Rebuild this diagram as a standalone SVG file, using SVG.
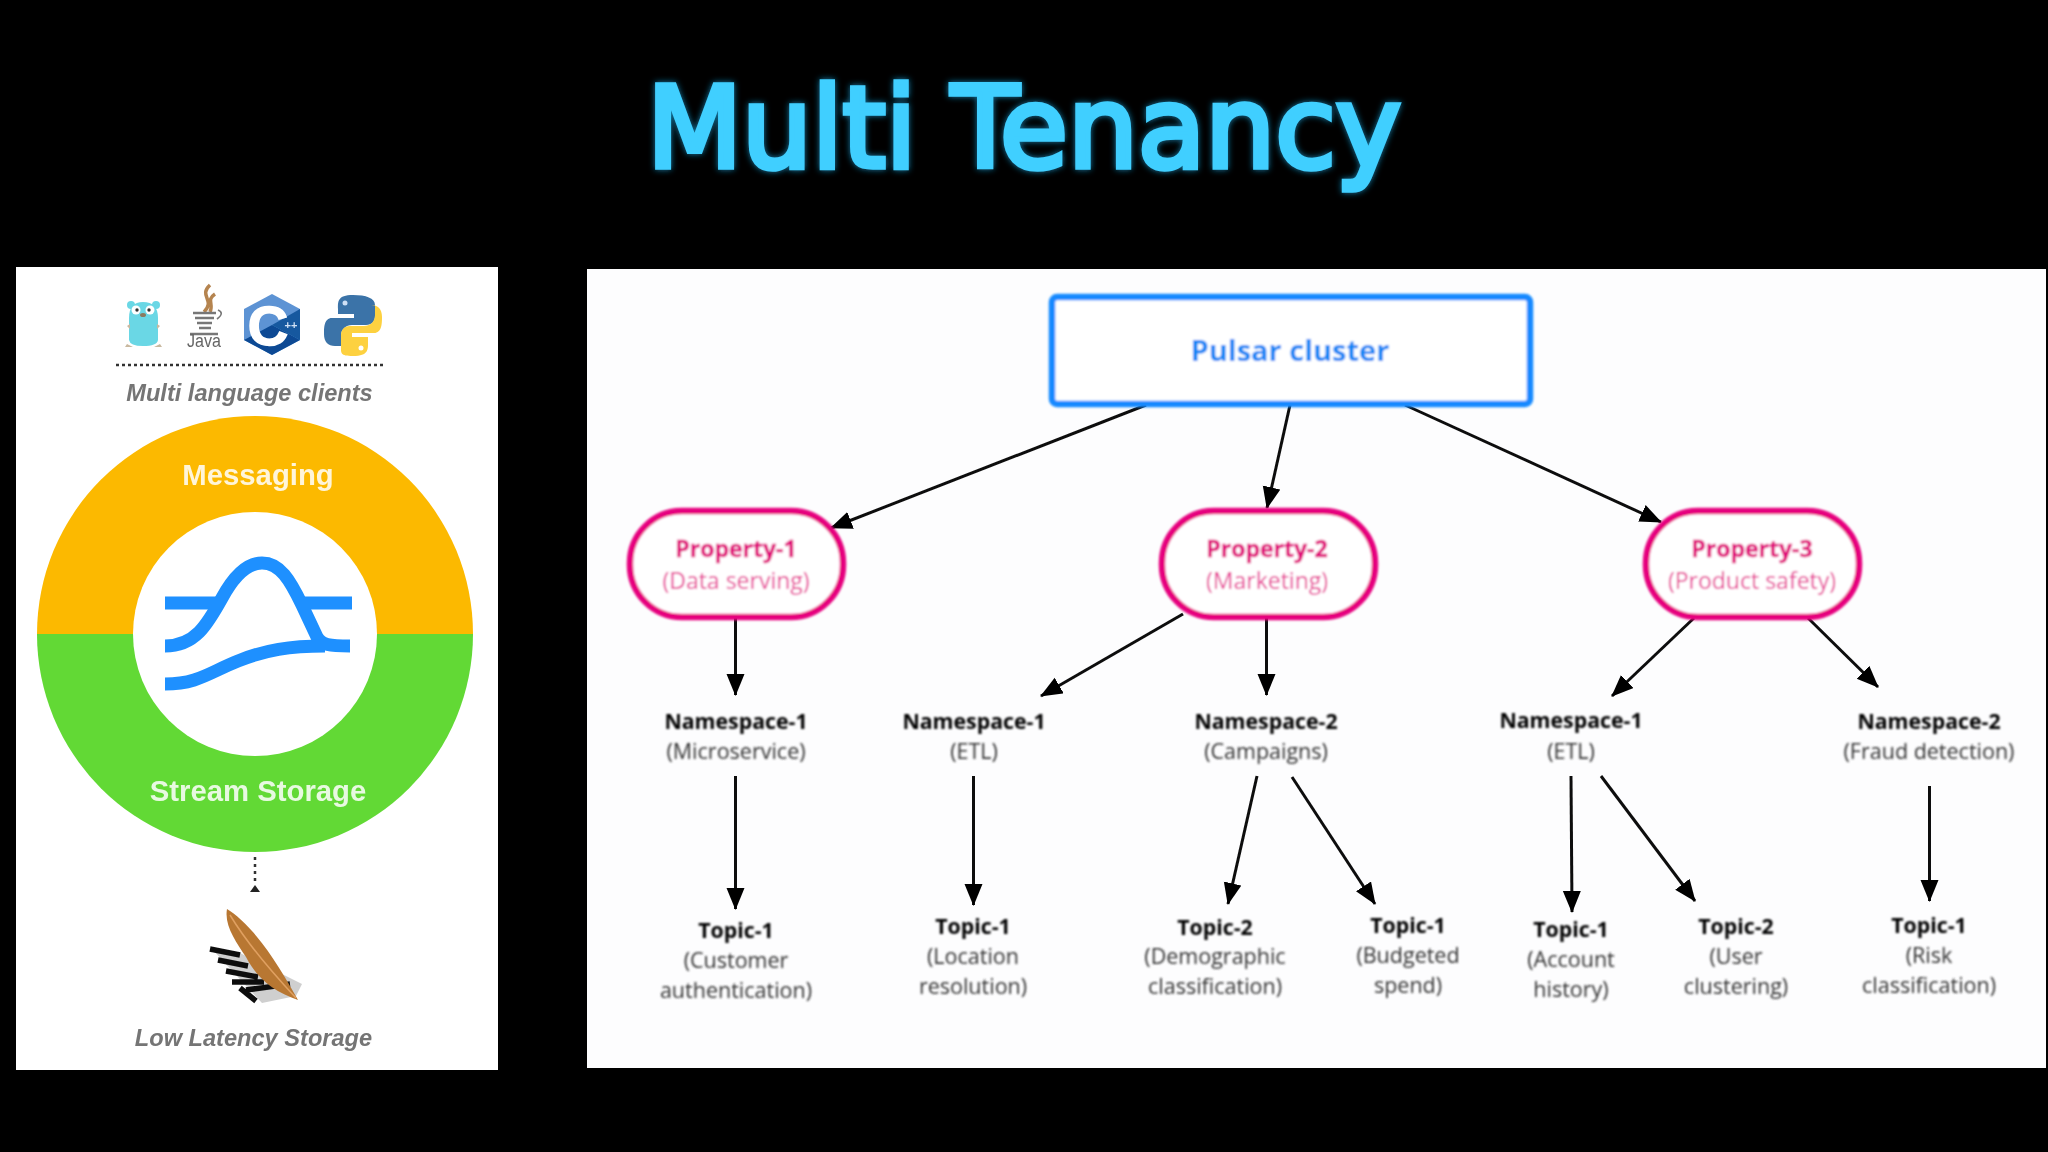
<svg xmlns="http://www.w3.org/2000/svg" width="2048" height="1152" viewBox="0 0 2048 1152">
<style>
.os{font-family:"Open Sans","Liberation Sans",sans-serif;text-anchor:middle}
.n{font-size:21.3px;font-weight:700;fill:#000}
.s{font-size:21.5px;fill:#333}
.pn{font-size:23px;font-weight:700;fill:#e0007a;stroke:#e0007a;stroke-width:.4}
.ps{font-size:23px;fill:#e62e90}
.prop{fill:#fff;stroke:#e6007e;stroke-width:6.5}
.ls{font-family:"Liberation Sans",Arial,sans-serif;text-anchor:middle}
.cap{font-size:23.6px;font-weight:700;font-style:italic;fill:#757575}
.ring{font-size:29.3px;font-weight:700;fill:#fff;fill-opacity:.85}
.c{stroke:#111;stroke-width:3;fill:none;marker-end:url(#arrow)}
.logo{fill:none;stroke:#1e90ff;stroke-width:13}
</style>
<defs>
<marker id="arrow" markerUnits="userSpaceOnUse" markerWidth="24" markerHeight="20" refX="21" refY="9" orient="auto">
<path d="M0,0 L22,9 L0,18 Z" fill="#000"/>
</marker>
<filter id="glow" x="-10%" y="-30%" width="120%" height="160%">
<feGaussianBlur in="SourceAlpha" stdDeviation="3" result="b"/>
<feFlood flood-color="#1aa5e0" flood-opacity=".75"/>
<feComposite in2="b" operator="in" result="g"/>
<feMerge><feMergeNode in="g"/><feMergeNode in="SourceGraphic"/></feMerge>
</filter>
<filter id="soft" x="-5%" y="-5%" width="110%" height="110%"><feGaussianBlur stdDeviation="0.9"/></filter>
<filter id="soft2" x="-5%" y="-5%" width="110%" height="110%"><feGaussianBlur stdDeviation="0.6"/></filter>
</defs>
<rect width="2048" height="1152" fill="#000"/>
<text id="title" x="1024" y="167" text-anchor="middle" font-family="'DejaVu Sans',sans-serif" font-size="112" textLength="754" lengthAdjust="spacingAndGlyphs" fill="#40cfff" stroke="#40cfff" stroke-width="5.5" filter="url(#glow)">Multi Tenancy</text>

<g id="left-panel">
<rect x="16" y="267" width="482" height="803" fill="#fff"/>
<g id="clients" filter="url(#soft2)">
<g id="go-icon">
<circle cx="131" cy="305" r="4" fill="#6ad7e5"/><circle cx="156" cy="305" r="4" fill="#6ad7e5"/>
<path d="M127,344 l-2,3 h8 z M160,344 l2,3 h-8 z" fill="#c9b9a0"/>
<path d="M129,318 Q129,302 143,302 Q158,302 158,318 L158,340 Q157,346 143,346 Q130,346 129,340 Z" fill="#6ad7e5"/>
<path d="M127,326 l3,-2 v5 z M160,326 l-3,-2 v5 z" fill="#c9b9a0"/>
<circle cx="136" cy="310" r="4.5" fill="#fff"/><circle cx="150" cy="310" r="4.5" fill="#fff"/>
<circle cx="137" cy="310" r="1.7" fill="#333"/><circle cx="149" cy="310" r="1.7" fill="#333"/>
<ellipse cx="143" cy="315" rx="3" ry="2" fill="#8a7a60"/>
</g>
<g id="java-icon">
<path d="M210,285 C198,296 216,300 204,312 M215,294 C206,300 214,304 210,312" fill="none" stroke="#b58450" stroke-width="3.5"/>
<path d="M193,313 H216 M195,318 H214 M197,323 H212 M199,328 H211 M190,334 H218" stroke="#777" stroke-width="2.4" fill="none"/>
<path d="M218,310 q7,3 -1,9" stroke="#777" stroke-width="1.6" fill="none"/>
<text x="204" y="347" class="ls" font-size="18" fill="#666" textLength="34" lengthAdjust="spacingAndGlyphs">Java</text>
</g>
<g id="cpp-icon">
<path d="M272,294 L300,309 V340 L272,355 L244,340 V309 Z" fill="#5d93d4"/>
<path d="M272,325 L300,340 L272,355 L244,340 Z" fill="#0a4a94"/>
<path d="M272,325 L300,309 V340 Z" fill="#17589f"/>
<text x="268" y="345" class="ls" font-size="56" font-weight="700" fill="#fff" stroke="#fff" stroke-width="1.5">C</text>
<text x="291" y="329" class="ls" font-size="11" font-weight="700" fill="#cfe0f5">++</text>
</g>
<g id="python-icon">
<path d="M353,295 C337,295 338,302 338,309 V314 H354 V318 H332 C324,318 324,328 324,334 C324,342 328,346 335,346 H341 V336 C341,329 346,325 352,325 H366 C372,325 375,321 375,316 V305 C375,298 366,295 353,295 Z" fill="#3a73a8"/>
<path d="M353,356 C369,356 368,349 368,342 V337 H352 V333 H374 C382,333 382,323 382,317 C382,309 378,305 371,305 H375 V315 C375,322 370,326 364,326 H350 C344,326 341,330 341,335 V346 C341,353 340,356 353,356 Z" fill="#fdd13f"/>
<circle cx="345" cy="303" r="2.5" fill="#cfe0f5"/><circle cx="361" cy="348" r="2.5" fill="#fff"/>
</g>
<line x1="116" y1="365" x2="385" y2="365" stroke="#333" stroke-width="2.5" stroke-dasharray="3 3"/>
<text x="249.5" y="401" class="ls cap">Multi language clients</text>
</g>
<g id="ring">
<path d="M37,634 A218,218 0 0 1 473,634 Z" fill="#fcb900"/>
<path d="M37,634 A218,218 0 0 0 473,634 Z" fill="#62d935"/>
<circle cx="255" cy="634" r="122" fill="#fff"/>
<g filter="url(#soft2)">
<text x="258" y="485" class="ls ring">Messaging</text>
<text x="258" y="801" class="ls ring">Stream Storage</text>
</g>
<g id="pulsar-logo">
<path class="logo" d="M165,646 C195,646 207,625 222,598 C235,574 248,563 262,563 C280,563 290,580 302,605 L317,637 C321,645 330,646 350,646"/>
<path class="logo" d="M165,603 H222"/>
<path class="logo" d="M165,684 C198,684 210,672 238,661 C265,650 290,646 325,646"/>
<path class="logo" d="M300,603 H352"/>
</g>
</g>
<g id="storage" filter="url(#soft2)">
<line x1="255" y1="857" x2="255" y2="884" stroke="#333" stroke-width="2.5" stroke-dasharray="3 4"/>
<path d="M250,892 L255,885 L260,892 Z" fill="#222"/>
<g id="tomcat-feather">
<path d="M212,949 L240,953 L302,984 L296,996 L262,1003 Z" fill="#cfcfcf"/>
<path d="M210,949 L240,955 M218,960 L248,966 M226,971 L258,977 M232,982 L264,982 M240,988 L256,1001 M246,990 L290,984" stroke="#111" stroke-width="5.5" fill="none"/>
<path d="M227,909 C245,920 268,945 298,1000 C275,992 258,980 246,957 C236,942 224,925 227,909 Z" fill="#b87733"/>
<path d="M230,915 C245,940 268,968 296,998" stroke="#e0a060" stroke-width="1.5" fill="none"/>
</g>
<text x="253.5" y="1046" class="ls cap">Low Latency Storage</text>
</g>
</g>

<g id="right-panel">
<rect x="587" y="269" width="1459" height="799" fill="#fdfdfe"/>
<g id="connectors" filter="url(#soft2)">
<line class="c" x1="1146" y1="405" x2="831" y2="528"/>
<line class="c" x1="1290" y1="405" x2="1267" y2="508"/>
<line class="c" x1="1405" y1="405" x2="1661" y2="522"/>
<line class="c" x1="735.500" y1="618" x2="735.500" y2="695"/>
<line class="c" x1="1183" y1="614" x2="1041" y2="696"/>
<line class="c" x1="1266.500" y1="618" x2="1266.500" y2="695"/>
<line class="c" x1="1694" y1="618" x2="1612" y2="696"/>
<line class="c" x1="1808" y1="618" x2="1878" y2="687"/>
<line class="c" x1="735.500" y1="776" x2="735.500" y2="909"/>
<line class="c" x1="973.500" y1="776" x2="973.500" y2="905"/>
<line class="c" x1="1257" y1="776" x2="1228" y2="904"/>
<line class="c" x1="1292" y1="777" x2="1375" y2="904"/>
<line class="c" x1="1571" y1="776" x2="1572" y2="912"/>
<line class="c" x1="1601" y1="776" x2="1695" y2="901"/>
<line class="c" x1="1929.500" y1="786" x2="1929.500" y2="901"/>
</g>
<g id="nodes" filter="url(#soft)">
<g id="pulsar-cluster">
<rect x="1052" y="297" width="478" height="107" rx="5" fill="#fff" stroke="#1389ff" stroke-width="6.500"/>
<text x="1290" y="361" class="os" font-size="29" font-weight="700" fill="#0f85f5">Pulsar cluster</text>
</g>
<g id="property-1"><rect class="prop" x="630" y="511" width="213" height="106" rx="52"/>
<text x="736" y="557" class="os pn">Property-1</text><text x="736" y="589" class="os ps">(Data serving)</text></g>
<g id="property-2"><rect class="prop" x="1162" y="511" width="213" height="106" rx="52"/>
<text x="1267" y="557" class="os pn">Property-2</text><text x="1267" y="589" class="os ps">(Marketing)</text></g>
<g id="property-3"><rect class="prop" x="1646" y="511" width="213" height="106" rx="52"/>
<text x="1752" y="557" class="os pn">Property-3</text><text x="1752" y="589" class="os ps">(Product safety)</text></g>
<g id="p1-ns1"><text x="736" y="729" class="os n">Namespace-1</text><text x="736" y="759" class="os s">(Microservice)</text></g>
<g id="p2-ns1"><text x="974" y="729" class="os n">Namespace-1</text><text x="974" y="759" class="os s">(ETL)</text></g>
<g id="p2-ns2"><text x="1266" y="729" class="os n">Namespace-2</text><text x="1266" y="759" class="os s">(Campaigns)</text></g>
<g id="p3-ns1"><text x="1571" y="728" class="os n">Namespace-1</text><text x="1571" y="759" class="os s">(ETL)</text></g>
<g id="p3-ns2"><text x="1929" y="729" class="os n">Namespace-2</text><text x="1929" y="759" class="os s">(Fraud detection)</text></g>
<g id="t1"><text x="736" y="938" class="os n">Topic-1</text><text x="736" y="968" class="os s">(Customer</text><text x="736" y="998" class="os s">authentication)</text></g>
<g id="t2"><text x="973" y="934" class="os n">Topic-1</text><text x="973" y="964" class="os s">(Location</text><text x="973" y="994" class="os s">resolution)</text></g>
<g id="t3"><text x="1215" y="935" class="os n">Topic-2</text><text x="1215" y="964" class="os s">(Demographic</text><text x="1215" y="994" class="os s">classification)</text></g>
<g id="t4"><text x="1408" y="933" class="os n">Topic-1</text><text x="1408" y="963" class="os s">(Budgeted</text><text x="1408" y="993" class="os s">spend)</text></g>
<g id="t5"><text x="1571" y="937" class="os n">Topic-1</text><text x="1571" y="967" class="os s">(Account</text><text x="1571" y="997" class="os s">history)</text></g>
<g id="t6"><text x="1736" y="934" class="os n">Topic-2</text><text x="1736" y="964" class="os s">(User</text><text x="1736" y="994" class="os s">clustering)</text></g>
<g id="t7"><text x="1929" y="933" class="os n">Topic-1</text><text x="1929" y="963" class="os s">(Risk</text><text x="1929" y="993" class="os s">classification)</text></g>
</g>
</g>
</svg>
